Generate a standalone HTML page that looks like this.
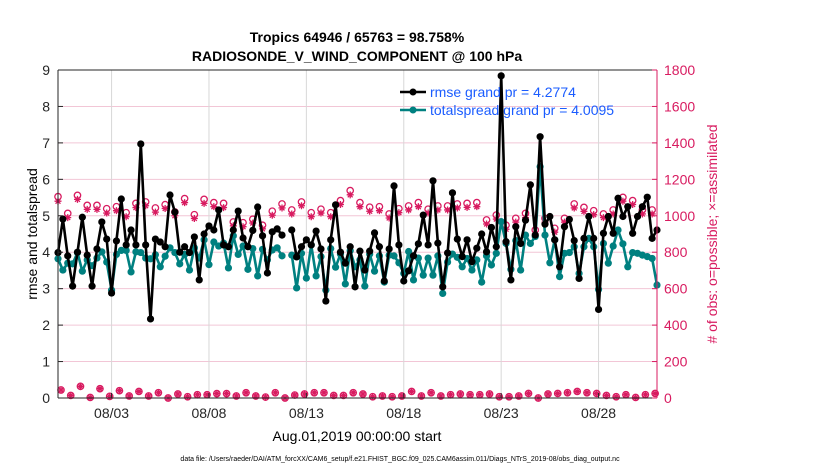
<!DOCTYPE html>
<html><head><meta charset="utf-8"><style>
html,body{margin:0;padding:0;background:#fff;}
svg{display:block;font-family:"Liberation Sans",sans-serif;}
</style></head><body>
<svg id="chart" width="830" height="470" viewBox="0 0 830 470" xmlns="http://www.w3.org/2000/svg">
<rect width="830" height="470" fill="#fff"/>
<text x="357" y="42" text-anchor="middle" font-size="14" font-weight="bold">Tropics 64946 / 65763 = 98.758%</text>
<text x="357" y="61" text-anchor="middle" font-size="14" font-weight="bold">RADIOSONDE_V_WIND_COMPONENT @ 100 hPa</text>
<g id="grid"></g>
<g id="series"></g>
<g id="axes"></g>
<text transform="translate(37,234) rotate(-90)" text-anchor="middle" font-size="14">rmse and totalspread</text>
<text transform="translate(717,234) rotate(-90)" text-anchor="middle" font-size="14" fill="#d81b60"># of obs: o=possible; ×=assimilated</text>
<text x="357" y="441" text-anchor="middle" font-size="14">Aug.01,2019 00:00:00 start</text>
<text x="400" y="461" text-anchor="middle" font-size="7">data file: /Users/raeder/DAI/ATM_forcXX/CAM6_setup/f.e21.FHIST_BGC.f09_025.CAM6assim.011/Diags_NTrS_2019-08/obs_diag_output.nc</text>
<g id="legend">
  <line x1="400" y1="92" x2="426" y2="92" stroke="#000" stroke-width="2.5"/>
  <circle cx="413" cy="92" r="3.5" fill="#000"/>
  <text x="430" y="97" font-size="14" fill="#1a5cff">rmse grand pr = 4.2774</text>
  <line x1="400" y1="110" x2="426" y2="110" stroke="#008080" stroke-width="2.5"/>
  <circle cx="413" cy="110" r="3.5" fill="#008080"/>
  <text x="430" y="115" font-size="14" fill="#1a5cff">totalspread grand pr = 4.0095</text>
</g>
</svg>
<script>
const rmse = [3.99,4.91,3.9,3.07,4.0,4.96,3.92,3.07,4.09,4.83,4.36,2.88,4.31,5.46,4.2,4.61,4.2,6.97,4.2,2.17,4.36,4.28,4.15,5.57,5.1,4.0,4.15,3.99,4.42,3.24,4.5,4.72,4.61,5.16,4.2,4.15,4.61,5.13,4.39,4.15,4.6,5.24,4.45,
3.43,4.56,4.64,4.47,null,
4.61,3.87,4.15,4.34,4.2,4.58,4.09,2.66,4.34,5.3,4.0,3.7,4.15,3.05,4.03,3.51,4.03,4.53,4.15,3.21,4.09,5.82,4.2,3.21,3.49,3.9,4.23,5.02,4.2,5.96,4.25,3.05,3.98,5.63,4.36,
3.88,4.34,3.74,4.11,4.5,4.01,4.68,4.15,8.84,4.29,3.24,4.7,4.24,4.88,5.85,4.47,7.17,4.77,4.98,4.34,3.6,4.7,4.9,4.32,3.28,4.38,4.98,4.38,2.43,4.52,4.98,4.52,5.48,4.98,5.25,4.52,4.98,5.25,5.51,4.38,4.61];
const spread = [3.82,3.51,3.7,3.68,3.99,3.48,3.79,3.63,3.84,4.01,3.73,2.96,3.94,4.05,4.05,3.46,4.01,3.99,3.84,3.82,3.93,3.6,3.89,4.12,3.99,3.68,3.94,3.51,4.12,3.84,4.34,3.66,4.28,4.17,4.25,3.57,4.45,3.94,4.17,3.53,4.1,3.35,4.08,
3.79,4.06,4.12,3.9,null,
3.92,3.02,3.97,3.29,4.2,3.35,3.88,2.96,4.1,3.59,3.95,3.13,4.04,3.6,3.79,3.07,3.95,3.48,3.9,3.18,3.92,3.9,3.71,3.42,4.02,3.24,3.84,3.37,3.84,3.37,3.9,2.87,3.73,3.95,3.86,
3.6,3.83,3.51,3.79,3.18,3.9,3.65,3.97,4.84,4.24,3.53,4.32,3.51,4.47,4.24,4.43,6.35,4.47,3.71,4.34,3.33,3.97,3.99,4.15,3.42,4.15,4.38,4.15,2.98,4.24,3.7,4.17,4.61,4.23,3.6,3.99,3.97,3.92,3.88,3.83,3.1];
const possibleTop = [1105,1013,1112,1057,1057,1039,1050,1017,1068,1076,1043,1061,1021,1094,1006,1090,1072,1068,966,962,981,948,
1025,1065,1032,1076,1017,1036,1017,1083,1138,1072,1047,1050,1010,1039,1054,1072,1036,1054,1054,1065,
1068,1072,977,1004,948,986,1013,922,986,931,986,1065,1046,1028,1010,1032,1101,1083,1032,1032];
const assimTop = [1080,990,1090,1035,1035,1015,1028,995,1045,1055,1020,1040,1000,1072,985,1068,1050,1045,945,940,960,928,
1003,1043,1010,1055,995,1015,995,1062,1115,1050,1025,1028,988,1017,1032,1050,1015,1032,1032,1043,
1046,1050,955,982,926,965,990,900,965,910,965,1043,1024,1006,990,1010,1080,1062,1010,1010];
const possibleBottom = [44,14,64,3,51,9,40,11,36,11,29,0,22,7,18,18,24,24,11,29,11,5,29,0,16,22,29,29,14,14,29,
22,7,11,7,11,36,11,29,11,18,22,18,18,22,7,7,11,25,0,22,25,29,36,29,25,14,7,18,3,18,25];
const dateTicks = [2,7,12,17,22,27];
const dateLabels = ["08/03","08/08","08/13","08/18","08/23","08/28"];
const leftTicks = [0,1,2,3,4,5,6,7,8,9];
const rightTicks = [0,200,400,600,800,1000,1200,1400,1600,1800];

const NS="http://www.w3.org/2000/svg";
const PL=58, PR=657, PT=70, PB=398;
const T0=-0.75, T1=30;
const xs = t => PL + (t-T0)/(T1-T0)*(PR-PL);
const yL = v => PB - v/9*(PB-PT);
const yR = v => PB - v/1800*(PB-PT);
const tOf = i => T0 + i*0.25;
function mk(tag, attrs, parent){const e=document.createElementNS(NS,tag);for(const k in attrs)e.setAttribute(k,attrs[k]);parent.appendChild(e);return e;}
const grid=document.getElementById('grid'), ser=document.getElementById('series'), ax=document.getElementById('axes');

rightTicks.forEach(v=>{
  const g=mk('line',{x1:PL,x2:PR,y1:yR(v),y2:yR(v),stroke:'#f2c6d6','stroke-width':1},grid);
  
  
});
dateTicks.forEach(d=>{
  const g=mk('line',{x1:xs(d),x2:xs(d),y1:PT,y2:PB,stroke:'#d8d8d8','stroke-width':1},grid);
  
  
});

function star(x,y,s,parent){
  mk('path',{d:`M${x-s} ${y}H${x+s}M${x} ${y-s}V${y+s}M${x-s*0.7} ${y-s*0.7}L${x+s*0.7} ${y+s*0.7}M${x-s*0.7} ${y+s*0.7}L${x+s*0.7} ${y-s*0.7}`,stroke:'#d81b60','stroke-width':1.3},parent);
}
possibleTop.forEach((v,k)=>{
  const g=mk('g',{},ser);
  
  
  const x=xs(tOf(k*2));
  mk('circle',{cx:x,cy:yR(v),r:3.2,fill:'none',stroke:'#d81b60','stroke-width':1.3},g);
  star(x,yR(assimTop[k]),3.5,g);
});
possibleBottom.forEach((v,k)=>{
  const g=mk('g',{},ser);
  
  
  const x=xs(tOf(k*2))+3;
  mk('circle',{cx:x,cy:yR(v),r:3.2,fill:'none',stroke:'#d81b60','stroke-width':1.3},g);
  star(x,yR(v),3.5,g);
});

function drawSeries(arr,color,name){
  let d='';let pen=false;
  arr.forEach((v,i)=>{ if(v===null){pen=false;return;} d+=(pen?'L':'M')+xs(tOf(i)).toFixed(1)+' '+yL(v).toFixed(1); pen=true; });
  const p=mk('path',{d:d,fill:'none',stroke:color,'stroke-width':2.6,'stroke-linejoin':'round'},ser);
  
  
  arr.forEach((v,i)=>{ if(v===null)return;
    const c=mk('circle',{cx:xs(tOf(i)),cy:yL(v),r:3.6,fill:color},ser);
    
    
  });
}
drawSeries(spread,'#008080','totalspread');
drawSeries(rmse,'#000000','rmse');

mk('line',{x1:PL,x2:PL,y1:PT,y2:PB,stroke:'#262626','stroke-width':1},ax);
mk('line',{x1:PL,x2:PR,y1:PB,y2:PB,stroke:'#262626','stroke-width':1},ax);
mk('line',{x1:PL,x2:PR,y1:PT,y2:PT,stroke:'#262626','stroke-width':1},ax);
mk('line',{x1:PR,x2:PR,y1:PT,y2:PB,stroke:'#d81b60','stroke-width':1},ax);
leftTicks.forEach(v=>{
  mk('line',{x1:PL,x2:PL+5,y1:yL(v),y2:yL(v),stroke:'#262626'},ax);
  const t=mk('text',{x:PL-8,y:yL(v)+5,'text-anchor':'end','font-size':14,fill:'#262626'},ax);
  t.textContent=v;
  
  
});
rightTicks.forEach(v=>{
  mk('line',{x1:PR-5,x2:PR,y1:yR(v),y2:yR(v),stroke:'#d81b60'},ax);
  const t=mk('text',{x:PR+7,y:yR(v)+5,'font-size':14,fill:'#d81b60'},ax);
  t.textContent=v;
  
  
});
dateTicks.forEach((d,i)=>{
  mk('line',{x1:xs(d),x2:xs(d),y1:PB,y2:PB-5,stroke:'#262626'},ax);
  const t=mk('text',{x:xs(d),y:418,'text-anchor':'middle','font-size':14,fill:'#262626'},ax);
  t.textContent=dateLabels[i];
  
  
});
</script>
</body></html>
